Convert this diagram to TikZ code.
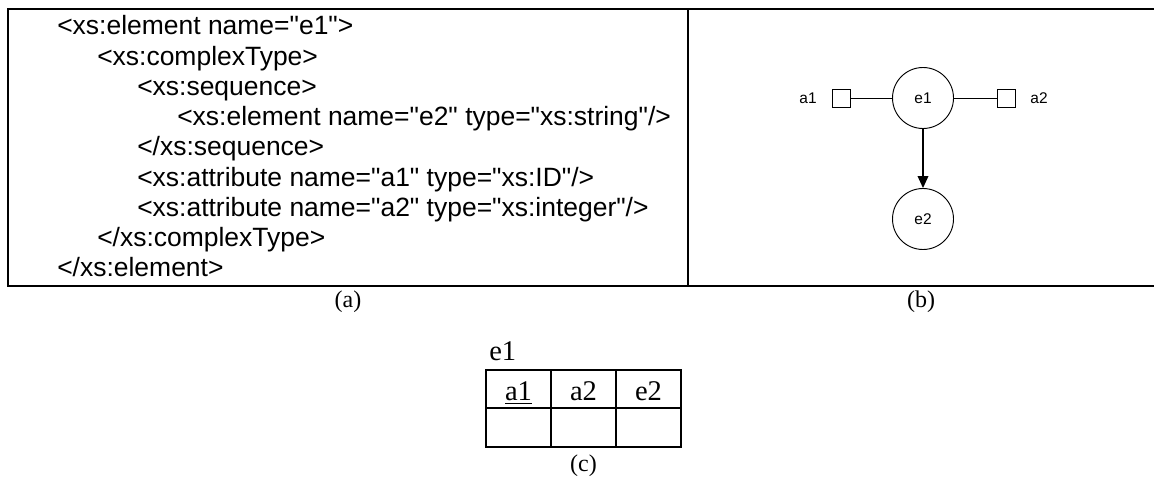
\documentclass[tikz,border=0pt]{standalone}
\usepackage{fontspec}
\setmainfont{Liberation Serif}
\newfontfamily\xmlfont{Liberation Sans}
\usetikzlibrary{arrows.meta}

\tikzset{
  frame/.style={line width=1.9pt},
  xmlline/.style={anchor=base west, inner sep=0pt, font=\xmlfont\fontsize{19.85}{23}\selectfont},
  elem/.style={draw, circle, minimum size=45.75pt, inner sep=0pt, line width=0.7pt,
    font=\xmlfont\fontsize{11.6}{13}\selectfont},
  attr/.style={draw, rectangle, minimum size=13.5pt, inner sep=0pt, line width=0.7pt},
  attrlabel/.style={inner sep=0pt, font=\xmlfont\fontsize{11.6}{13}\selectfont},
  grid/.style={line width=1.4pt},
  cell/.style={anchor=base, inner sep=0pt, font=\fontsize{21.4}{24}\selectfont},
  caption/.style={inner sep=0pt, font=\fontsize{18}{20}\selectfont}
}

\begin{document}
\begin{tikzpicture}[x=0.75pt, y=-0.75pt]
\useasboundingbox (0,0) rectangle (1154,477);

% outer frame and divider
\draw[frame] (1154,9) -- (8,9) -- (8,286) -- (1154,286);
\draw[frame] (688,9) -- (688,286);

% (a) schema listing
\foreach \lvl/\txt [count=\i] in {0/{<xs:element name="e1">}, 1/{<xs:complexType>},
    2/{<xs:sequence>}, 3/{<xs:element name="e2" type="xs:string"/>}, 2/{</xs:sequence>},
    2/{<xs:attribute name="a1" type="xs:ID"/>}, 2/{<xs:attribute name="a2" type="xs:integer"/>},
    1/{</xs:complexType>}, 0/{</xs:element>}} {
  \node[xmlline] (x\i) at ({57+40*\lvl}, {35+30.25*(\i-1)}) {\txt};
}

% (b) schema graph
\node[elem] (e1) at (923,98) {e1};
\node[elem] (e2) at (923,219) {e2};
\node[attr] (a1) at (841,98) {};
\node[attr] (a2) at (1006,98) {};
\node[attrlabel] (a1lab) at (808,98) {a1};
\node[attrlabel] (a2lab) at (1039,98) {a2};
\draw[line width=0.7pt] (a1) -- (e1);
\draw[line width=0.7pt] (e1) -- (a2);
\draw[line width=1.1pt, -{Triangle[length=9pt, width=8pt]}] (e1) -- (e2);

% (c) relation table
\node[cell, anchor=base west] (rel) at (489,361) {e1};
\draw[grid] (486,370) rectangle (681,447);
\draw[grid] (486,408) -- (681,408);
\foreach \x in {551,616} {
  \draw[grid] (\x,370) -- (\x,447);
}
\node[cell] (ca1) at (518.5,401) {\underline{a1}};
\node[cell] (ca2) at (583.5,401) {a2};
\node[cell] (ce2) at (648.5,401) {e2};

% captions
\node[caption] (capa) at (348,302) {(a)};
\node[caption] (capb) at (921,302) {(b)};
\node[caption] (capc) at (583.5,466) {(c)};
\end{tikzpicture}
\end{document}
